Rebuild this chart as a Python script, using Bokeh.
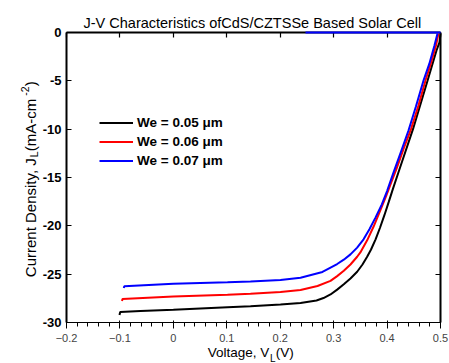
import math
from bokeh.plotting import figure
from bokeh.models import Range1d, LinearAxis, FixedTicker, Legend, LegendItem, ColumnDataSource
from bokeh.core.properties import value
from bokeh.embed import file_html
from bokeh.resources import INLINE

# ---------------- data ----------------
series_names = ["We = 0.05 \u03bcm", "We = 0.06 \u03bcm", "We = 0.07 \u03bcm"]
series_colors = ["#000000", "#ff0000", "#0000ff"]

black_v = [-0.1008, -0.0995, -0.0615, 0.0, 0.1013, 0.1444, 0.2005, 0.238, 0.2679, 0.2810,
           0.2941, 0.3066, 0.3190, 0.3315, 0.3440, 0.3540, 0.3627, 0.3700, 0.3785, 0.3868,
           0.3950, 0.4030, 0.4111, 0.4223, 0.4485, 0.4757, 0.4925, 0.4981, 0.5]
black_j = [-29.22, -28.91, -28.81, -28.69, -28.42, -28.32, -28.14, -27.98, -27.72, -27.47,
           -27.10, -26.60, -26.05, -25.45, -24.75, -24.00, -23.20, -22.45, -21.40, -20.20,
           -18.90, -17.55, -16.15, -14.30, -10.00, -5.00, -1.86, -1.03, -0.10]

red_v = [-0.0961, -0.0952, 0.0, 0.1013, 0.1444, 0.2005, 0.238, 0.2698, 0.2941, 0.3066,
         0.3190, 0.3315, 0.3440, 0.3500, 0.3627, 0.3746, 0.3858, 0.3980, 0.4100, 0.4176,
         0.4312, 0.4448, 0.4585, 0.4719, 0.4820, 0.4916, 0.4962]
red_j = [-27.77, -27.57, -27.31, -27.13, -27.03, -26.84, -26.64, -26.22, -25.70, -25.20,
         -24.65, -24.00, -23.20, -22.75, -21.50, -20.10, -18.60, -16.95, -15.20, -14.10,
         -12.00, -10.00, -7.60, -4.97, -3.20, -1.34, -0.10]

blue_v = [-0.0928, -0.0918, 0.0, 0.1013, 0.1444, 0.2005, 0.238, 0.2791, 0.3066, 0.3190,
          0.3315, 0.3440, 0.3560, 0.3670, 0.3783, 0.3900, 0.4000, 0.4120, 0.4260, 0.4401,
          0.4540, 0.4682, 0.4790, 0.4887, 0.4944]
blue_j = [-26.43, -26.25, -26.0, -25.84, -25.76, -25.60, -25.37, -24.77, -23.95, -23.50,
          -22.95, -22.25, -21.40, -20.35, -19.15, -17.80, -16.40, -14.50, -12.35, -10.14,
          -7.65, -4.97, -3.25, -1.34, -0.10]

blue_top_v = [0.2473, 0.5]
blue_top_j = [0.0, 0.0]

x_tick_values = [-0.2, -0.1, 0.0, 0.1, 0.2, 0.3, 0.4, 0.5]
x_tick_labels = ["-0.2", "-0.1", "0", "0.1", "0.2", "0.3", "0.4", "0.5"]
y_tick_values = [-30, -25, -20, -15, -10, -5, 0]
y_tick_labels = ["-30", "-25", "-20", "-15", "-10", "-5", "0"]

title_text = "J-V Characteristics ofCdS/CZTSSe Based Solar Cell"

# ---------------- figure ----------------
FONT = "Liberation Sans"
p = figure(width=449, height=363, x_range=Range1d(-0.2, 0.5), y_range=Range1d(-30, 0),
           output_backend="svg", toolbar_location=None, title=None,
           min_border_left=66, min_border_right=9, min_border_top=32, min_border_bottom=41)
p.grid.visible = False
p.outline_line_color = None
p.background_fill_color = "white"
p.border_fill_color = "white"

top_axis = LinearAxis()
right_axis = LinearAxis()
p.add_layout(top_axis, "above")
p.add_layout(right_axis, "right")


def style_axis(ax, ticks, labels, show):
    ax.ticker = FixedTicker(ticks=ticks)
    ax.major_tick_in = 5
    ax.major_tick_out = 0
    ax.minor_tick_in = 0
    ax.minor_tick_out = 0
    ax.minor_tick_line_color = None
    ax.axis_line_color = "black"
    ax.axis_line_width = 2
    ax.major_tick_line_color = "black"
    ax.major_tick_line_width = 1.2
    ax.major_label_text_font = FONT
    ax.major_label_text_font_style = "bold"
    ax.major_label_text_color = "black"
    ax.major_label_text_font_size = "13px"
    if show:
        ax.major_label_overrides = {t: l for t, l in zip(ticks, labels)}
        ax.major_label_standoff = 5
    else:
        ax.major_label_overrides = {t: "" for t in ticks}
        ax.major_label_standoff = 0


style_axis(p.xaxis[0], x_tick_values, x_tick_labels, True)
style_axis(top_axis, x_tick_values, x_tick_labels, False)
style_axis(p.yaxis[0], y_tick_values, y_tick_labels, True)
style_axis(right_axis, y_tick_values, y_tick_labels, False)

# ---------------- curves ----------------
renderers = []
for v, j, c in [(black_v, black_j, series_colors[0]), (red_v, red_j, series_colors[1]),
                (blue_v, blue_j, series_colors[2])]:
    src = ColumnDataSource(data=dict(v=v, j=j))
    r = p.line("v", "j", source=src, line_color=c, line_width=2, level="overlay")
    renderers.append(r)
p.line(blue_top_v, blue_top_j, line_color=series_colors[2], line_width=2, level="overlay")

legend = Legend(items=[LegendItem(label=n, renderers=[r]) for n, r in zip(series_names, renderers)],
                location=(33, 152), padding=0, margin=0, spacing=0,
                glyph_width=34, glyph_height=19, label_height=19, label_standoff=4,
                border_line_alpha=0, background_fill_alpha=0,
                label_text_font=FONT, label_text_font_style="bold",
                label_text_font_size="13.5px", label_text_color="black")
p.add_layout(legend)

# ---------------- texts (overlay-level text glyphs, not clipped to frame) ----------------
W = {" ": 278, "(": 333, ")": 333, ",": 278, "-": 333, ".": 278, "/": 278, "A": 667, "C": 722,
     "D": 722, "J": 500, "L": 556, "V": 667, "a": 556, "c": 500, "e": 556, "g": 556, "i": 222,
     "l": 222, "m": 833, "n": 556, "o": 556, "r": 333, "s": 500, "t": 278, "u": 556, "y": 500,
     "2": 556}


def tw(s, size):
    return sum(W.get(ch, 556) for ch in s) / 1000.0 * size


def put_text(x, y, txt, size, dx, dy, align="left", angle=0.0):
    p.text(x=[x], y=[y], text=[txt], x_offset=dx, y_offset=dy, angle=angle,
           text_font=value(FONT), text_font_size=value(f"{size}px"), text_color="black",
           text_align=align, text_baseline="alphabetic", level="overlay")


# title, left edge at 17 px right of the y axis
put_text(-0.2, 0.0, title_text, 14.5, 17, -9.3)

# x label: Voltage, V_L (V)
xs, xsub = 13.5, 10
xo = 141.3
for txt, sz, dy in [("Voltage, V", xs, 30.3), ("L", xsub, 35.5), (" (V)", xs, 30.3)]:
    put_text(-0.2, -30.0, txt, sz, xo, dy)
    xo += tw(txt, sz)

# y label: Current Density, J_L (mA-cm^-2)
ys, ysub = 15, 10.5
yo = 45.3
for txt, sz, dx, adj in [("Current Density, J", ys, -36.0, 0), ("L", ysub, -32.5, 0),
                         (" (mA-cm", ys, -36.0, -1.0), ("-2", ysub, -42.0, 0), (")", ys, -36.0, 0)]:
    put_text(-0.2, -30.0, txt, sz, dx, -yo, angle=math.pi / 2)
    yo += tw(txt, sz) + adj

open("out.html", "w").write(file_html(p, INLINE))
